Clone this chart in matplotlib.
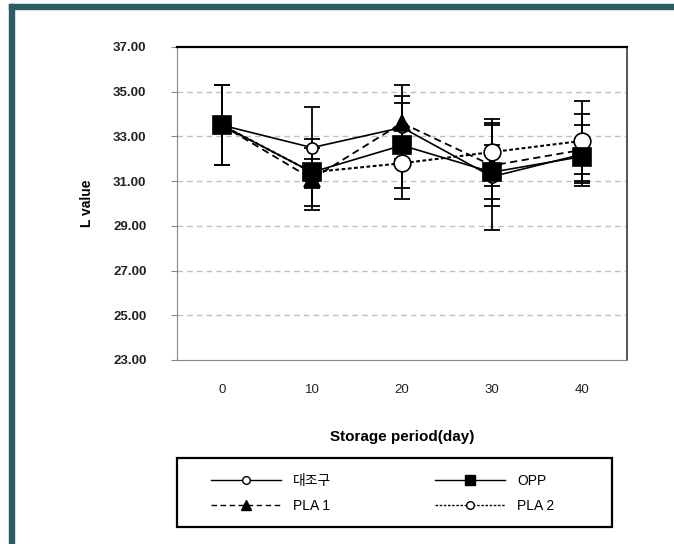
import numpy as np
import matplotlib
matplotlib.use('Agg')
from matplotlib import pyplot as plt
from matplotlib.patches import Rectangle

plt.rcParams['font.family'] = ['Liberation Sans', 'Noto Sans CJK KR', 'DejaVu Sans']

# storage days and L values
days = ['0', '10', '20', '30', '40']
control = [33.5, 32.5, 33.4, 31.2, 32.2]
control_sd = [1.8, 1.8, 1.4, 2.4, 1.3]
opp = [33.5, 31.4, 32.6, 31.4, 32.1]
opp_sd = [1.8, 1.5, 1.9, 1.2, 0.8]
pla1 = [33.5, 31.1, 33.6, 31.7, 32.4]
pla1_sd = [1.8, 1.4, 1.7, 1.8, 1.6]
pla2 = [33.5, 31.4, 31.8, 32.3, 32.8]
pla2_sd = [1.8, 0.6, 1.6, 1.5, 1.8]
yticks = [23, 25, 27, 29, 31, 33, 35, 37]

fig = plt.figure(figsize=(6.74, 5.44), dpi=100)
fig.patch.set_facecolor('white')

# teal frame (left and top edges)
teal = '#2b5b64'
fig.patches.append(Rectangle((9 / 674, 0), 5 / 674, 1 - 4 / 544,
                             transform=fig.transFigure, color=teal, zorder=0))
fig.patches.append(Rectangle((9 / 674, 1 - 9 / 544), 1, 5 / 544,
                             transform=fig.transFigure, color=teal, zorder=0))

ax = fig.add_axes([177 / 674, 1 - 360 / 544, 450 / 674, 313 / 544])
x = np.arange(len(days))

# values, sd, label, linestyle, marker, face, size, width, zorder
series = [
    (control, control_sd, '대조구', '-', 'o', 'white', 8, 1.2, 3),
    (pla1, pla1_sd, 'PLA 1', (0, (4, 2.5)), '^', 'black', 11, 1.3, 3),
    (opp, opp_sd, 'OPP', '-', 's', 'black', 12.5, 1.2, 4),
    (pla2, pla2_sd, 'PLA 2', (0, (1.8, 1.2)), 'o', 'white', 12, 1.5, 3),
]

handles = []
for vals, sd, name, ls, mk, fc, ms, lw, z in series:
    ax.errorbar(x, vals, yerr=sd, fmt='none', ecolor='black',
                elinewidth=1.3, capsize=6, capthick=1.3, zorder=2)
    ax.plot(x, vals, linestyle=ls, color='black', lw=lw, marker=mk,
            markersize=ms, markerfacecolor=fc, markeredgecolor='black',
            markeredgewidth=1.2, zorder=z)
    h, = plt.plot([], [], linestyle=ls, color='black', lw=1.0, marker=mk,
                  markersize=7 if mk != 'o' else 5.5, markerfacecolor=fc,
                  markeredgecolor='black', markeredgewidth=1.0)
    handles.append((h, name))

ax.set_xlim(-0.5, len(days) - 0.5)
ax.set_ylim(23, 37)
ax.set_xticks(x)
ax.set_xticklabels(days, fontsize=9.5, color='#222222')
ax.set_yticks(yticks)
ax.set_yticklabels(['%.2f' % v for v in yticks], fontsize=9.5, fontweight='bold',
                   color='#222222')
ax.tick_params(axis='x', length=0, pad=17)
ax.tick_params(axis='y', length=4, direction='out', color='#888888', pad=18)

for v in yticks[1:-1]:
    ax.axhline(v, color='#c0c0c0', lw=1.0, linestyle=(0, (4, 3)), zorder=1)

ax.spines['top'].set_color('black')
ax.spines['top'].set_linewidth(1.6)
ax.spines['right'].set_color('#555555')
ax.spines['right'].set_linewidth(1.4)
ax.spines['left'].set_color('#888888')
ax.spines['bottom'].set_color('#888888')

ax.set_ylabel('L value', fontsize=10, fontweight='bold', labelpad=14)
ax.set_xlabel('Storage period(day)', fontsize=11, fontweight='bold', labelpad=25)

# legend box drawn separately so the columns keep their own spacing
fig.patches.append(Rectangle((177 / 674, 1 - 527 / 544), 435 / 674, 69 / 544,
                             transform=fig.transFigure, fill=False,
                             edgecolor='black', lw=1.6, zorder=5))
fig.legend([h for h, n in handles], [n for h, n in handles], ncol=2,
           loc='upper left', bbox_to_anchor=(200 / 674, 1 - 463 / 544),
           fontsize=10, frameon=False, handlelength=5.0, handletextpad=0.9,
           borderpad=0.3, labelspacing=0.75, numpoints=1, columnspacing=7.5)

plt.savefig('out.png', dpi=100)
